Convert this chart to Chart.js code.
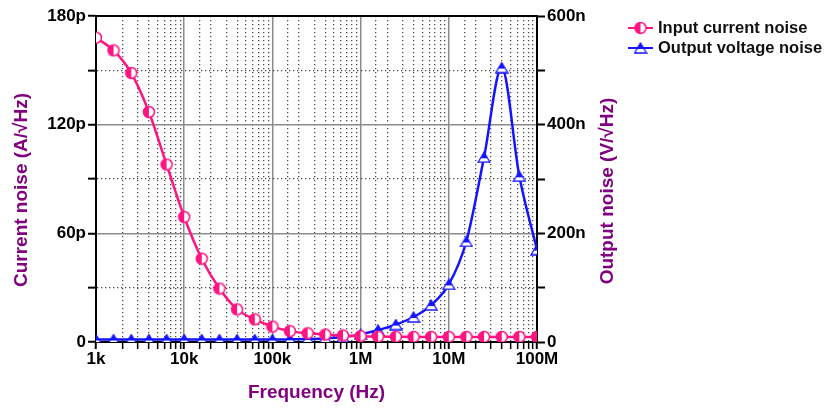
<!DOCTYPE html>
<html>
<head>
<meta charset="utf-8">
<script src="https://cdn.jsdelivr.net/npm/chart.js@4.4.1/dist/chart.umd.min.js"></script>
<style>
  body { margin: 0; background: #fff; }
  #wrap { width: 827px; height: 410px; }
</style>
</head>
<body>
<div id="wrap"><canvas id="noiseChart" width="827" height="410"></canvas></div>
<script>
// Sweep points, five per decade from 1 kHz to 100 MHz
var freqs = [1e3, 1.58e3, 2.51e3, 3.98e3, 6.31e3,
             1e4, 1.58e4, 2.51e4, 3.98e4, 6.31e4,
             1e5, 1.58e5, 2.51e5, 3.98e5, 6.31e5,
             1e6, 1.58e6, 2.51e6, 3.98e6, 6.31e6,
             1e7, 1.58e7, 2.51e7, 3.98e7, 6.31e7,
             1e8];

// Input-referred current noise, pA/sqrt(Hz)
var currentNoise = [168, 161, 148.5, 127, 98,
                    69, 46, 29.5, 18, 12.5,
                    8.5, 6, 4.8, 4.1, 3.6,
                    3.2, 3.0, 2.9, 2.8, 2.8,
                    2.8, 2.8, 2.8, 2.8, 2.8,
                    2.8];

// Output voltage noise, nV/sqrt(Hz)
var outputNoise = [4.5, 4.5, 4.5, 4.5, 4.5,
                   4.5, 4.5, 4.5, 4.5, 4.5,
                   4.5, 5, 5.5, 6.5, 9,
                   14, 22, 32, 46, 68,
                   106, 185, 340, 505, 305,
                   170];

var xTickValues = [1e3, 1e4, 1e5, 1e6, 1e7, 1e8];
var xTickLabels = ['1k', '10k', '100k', '1M', '10M', '100M'];
var leftTickValues = [0, 60, 120, 180];
var leftTickLabels = ['0', '60p', '120p', '180p'];
var rightTickValues = [0, 200, 400, 600];
var rightTickLabels = ['0', '200n', '400n', '600n'];

var PINK = '#ff1482';
var BLUE = '#1414ff';
var PURPLE = '#800080';
var FONT = '"Liberation Sans", Arial, sans-serif';

// half-filled circle marker (left half solid)
function halfCircle(color) {
    var c = document.createElement('canvas');
    c.width = 14; c.height = 14;
    var g = c.getContext('2d');
    g.fillStyle = '#fff';
    g.beginPath(); g.arc(7, 7, 5.5, 0, Math.PI * 2); g.fill();
    g.fillStyle = color;
    g.beginPath(); g.arc(7, 7, 5.5, Math.PI / 2, Math.PI * 1.5); g.closePath(); g.fill();
    g.strokeStyle = color; g.lineWidth = 1.5;
    g.beginPath(); g.arc(7, 7, 5.5, 0, Math.PI * 2); g.stroke();
    return c;
}

// half-filled triangle marker (upper part solid)
function halfTriangle(color) {
    var c = document.createElement('canvas');
    c.width = 14; c.height = 12;
    var g = c.getContext('2d');
    function path() {
        g.beginPath(); g.moveTo(7, 1); g.lineTo(13, 11); g.lineTo(1, 11); g.closePath();
    }
    g.fillStyle = '#fff'; path(); g.fill();
    g.save();
    g.beginPath(); g.rect(0, 0, 14, 7); g.clip();
    g.fillStyle = color; path(); g.fill();
    g.restore();
    g.strokeStyle = color; g.lineWidth = 1.3; path(); g.stroke();
    return c;
}

var circleMark = halfCircle(PINK);
var triMark = halfTriangle(BLUE);

function isDecade(v) {
    var l = Math.log10(v);
    return Math.abs(l - Math.round(l)) < 1e-6;
}

// frame top line, y-axis titles and the legend
var overlay = {
    id: 'overlay',
    afterDraw: function(chart) {
        var ctx = chart.ctx, area = chart.chartArea;
        ctx.save();
        ctx.strokeStyle = '#000';
        ctx.lineWidth = 2;
        ctx.beginPath();
        ctx.moveTo(area.left - 1, area.top);
        ctx.lineTo(area.right + 1, area.top);
        ctx.stroke();

        ctx.fillStyle = PURPLE;
        ctx.font = 'bold 19px ' + FONT;
        ctx.textAlign = 'center';
        ctx.textBaseline = 'middle';
        ctx.save();
        ctx.translate(area.left - 74, 190);
        ctx.rotate(-Math.PI / 2);
        ctx.fillText('Current noise (A/\u221AHz)', 0, 0);
        ctx.restore();
        ctx.save();
        ctx.translate(area.right + 71, 191);
        ctx.rotate(-Math.PI / 2);
        ctx.fillText('Output noise (V/\u221AHz)', 0, 0);
        ctx.restore();

        var items = [
            { text: 'Input current noise', color: PINK, mark: circleMark, y: 28 },
            { text: 'Output voltage noise', color: BLUE, mark: triMark, y: 48 }
        ];
        var lx = area.right + 91;
        ctx.textAlign = 'left';
        ctx.font = 'bold 16.5px ' + FONT;
        items.forEach(function(it) {
            ctx.strokeStyle = it.color;
            ctx.lineWidth = 2;
            ctx.beginPath();
            ctx.moveTo(lx, it.y);
            ctx.lineTo(lx + 25, it.y);
            ctx.stroke();
            ctx.drawImage(it.mark, lx + 12.5 - it.mark.width / 2, it.y - it.mark.height / 2);
            ctx.fillStyle = '#111';
            ctx.fillText(it.text, lx + 30, it.y);
        });
        ctx.restore();
    }
};

var ctx = document.getElementById('noiseChart').getContext('2d');
var noiseChart = new Chart(ctx, {
    type: 'line',
    data: {
        datasets: [{
            label: 'Input current noise',
            data: freqs.map(function(f, i) { return { x: f, y: currentNoise[i] }; }),
            yAxisID: 'y',
            borderColor: PINK,
            borderWidth: 2.5,
            pointStyle: circleMark,
            pointRadius: 5,
            cubicInterpolationMode: 'monotone'
        }, {
            label: 'Output voltage noise',
            data: freqs.map(function(f, i) { return { x: f, y: outputNoise[i] }; }),
            yAxisID: 'y2',
            borderColor: BLUE,
            borderWidth: 2.5,
            pointStyle: triMark,
            pointRadius: 5,
            cubicInterpolationMode: 'monotone'
        }]
    },
    options: {
        responsive: false,
        animation: false,
        devicePixelRatio: 1,
        layout: { padding: { left: 0, right: 210, top: 16, bottom: 0 } },
        plugins: {
            legend: { display: false },
            tooltip: { enabled: false }
        },
        scales: {
            x: {
                type: 'logarithmic',
                position: 'bottom',
                min: 1e3,
                max: 1e8,
                afterFit: function(s) { s.height = 68; },
                ticks: {
                    autoSkip: false,
                    maxRotation: 0,
                    padding: 0,
                    color: '#000',
                    font: { family: FONT, size: 17, weight: 'bold' },
                    callback: function(v) {
                        var k = xTickValues.indexOf(v);
                        return k >= 0 ? xTickLabels[k] : '';
                    }
                },
                grid: {
                    color: function(c) { return c.tick && isDecade(c.tick.value) ? '#8c8c8c' : '#4a4a4a'; },
                    lineWidth: function(c) { return c.tick && isDecade(c.tick.value) ? 1.5 : 1.3; },
                    tickColor: '#000',
                    tickWidth: function(c) { return c.tick && isDecade(c.tick.value) ? 2 : 1.5; },
                    tickLength: 7
                },
                border: {
                    color: '#000',
                    width: 2,
                    dash: function(c) { return c.tick && !isDecade(c.tick.value) ? [1.3, 2.7] : []; }
                },
                title: {
                    display: true,
                    text: 'Frequency (Hz)',
                    color: PURPLE,
                    font: { family: FONT, size: 19, weight: 'bold' },
                    padding: { top: 0, bottom: 6 }
                }
            },
            y: {
                type: 'linear',
                position: 'left',
                min: 0,
                max: 180,
                afterFit: function(s) { s.width = 96; },
                ticks: {
                    stepSize: 30,
                    padding: 2,
                    color: '#000',
                    font: { family: FONT, size: 17, weight: 'bold' },
                    callback: function(v) {
                        var k = leftTickValues.indexOf(v);
                        return k >= 0 ? leftTickLabels[k] : '';
                    }
                },
                grid: {
                    color: function(c) {
                        var v = c.tick ? c.tick.value : 0;
                        if (v === 60 || v === 120) return '#8c8c8c';
                        if (v === 30 || v === 90 || v === 150) return '#4a4a4a';
                        return 'rgba(0,0,0,0)';
                    },
                    lineWidth: function(c) { return c.tick && c.tick.value % 60 === 0 ? 1.5 : 1.3; },
                    tickColor: '#000',
                    tickWidth: 2,
                    tickLength: 8
                },
                border: {
                    color: '#000',
                    width: 2,
                    dash: function(c) { return c.tick && c.tick.value % 60 !== 0 ? [1.3, 2.7] : []; }
                }
            },
            y2: {
                type: 'linear',
                position: 'right',
                min: 0,
                max: 600,
                afterFit: function(s) { s.width = 80; },
                ticks: {
                    stepSize: 100,
                    padding: 2,
                    color: '#000',
                    font: { family: FONT, size: 17, weight: 'bold' },
                    callback: function(v) {
                        var k = rightTickValues.indexOf(v);
                        return k >= 0 ? rightTickLabels[k] : '';
                    }
                },
                grid: {
                    drawOnChartArea: false,
                    tickColor: '#000',
                    tickWidth: 2,
                    tickLength: 8
                },
                border: { color: '#000', width: 2 }
            }
        }
    },
    plugins: [overlay]
});
</script>
</body>
</html>
